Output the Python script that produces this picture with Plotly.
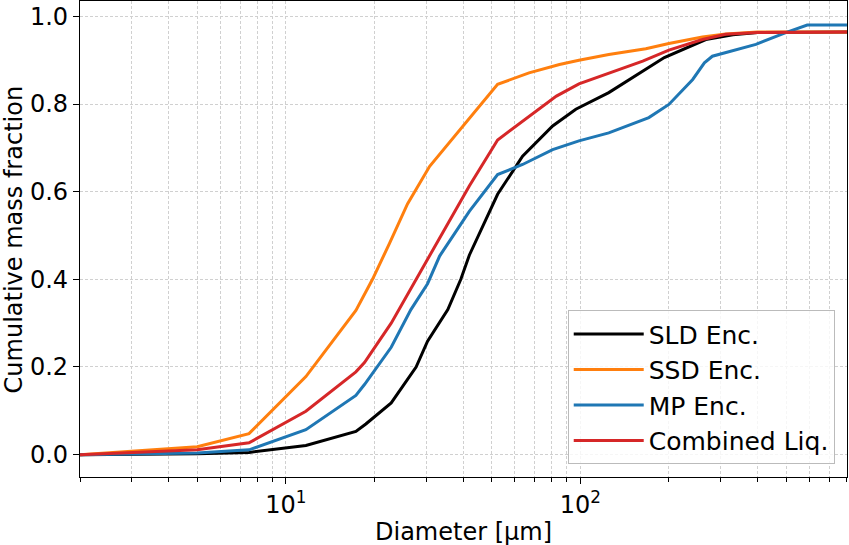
import plotly.graph_objects as go

# cumulative mass fraction vs. diameter (um)
sld_d = [2, 5, 7.5, 11.7, 17.3, 18.7, 22.8, 27.7, 30.3, 35.5, 39.3, 42, 52.4,
         63.7, 80.6, 96.6, 125, 151, 193, 267, 330, 400, 805]
sld_v = [0, 0.002, 0.005, 0.021, 0.053, 0.07, 0.118, 0.20, 0.259, 0.331, 0.40,
         0.455, 0.594, 0.681, 0.750, 0.788, 0.826, 0.860, 0.906, 0.947, 0.958,
         0.963, 0.964]

ssd_d = [2, 5, 7.5, 11.7, 17.3, 19.7, 22.5, 25.9, 30.8, 40.9, 52.4, 67, 85, 99,
         125, 167, 200, 260, 312, 400, 805]
ssd_v = [0, 0.018, 0.048, 0.178, 0.329, 0.40, 0.482, 0.572, 0.658, 0.757, 0.845,
         0.871, 0.890, 0.900, 0.913, 0.926, 0.938, 0.953, 0.960, 0.964, 0.964]

mp_d = [2, 5, 7.5, 11.7, 17.3, 18.5, 22.8, 26.6, 30.3, 33.3, 42, 52.4, 63.7,
        80.6, 99, 125, 171, 200, 241, 264, 281, 330, 395, 499, 590, 805]
mp_v = [0, 0.004, 0.011, 0.057, 0.135, 0.16, 0.245, 0.331, 0.39, 0.453, 0.555,
        0.639, 0.662, 0.696, 0.716, 0.734, 0.769, 0.799, 0.856, 0.894, 0.909,
        0.921, 0.936, 0.963, 0.980, 0.980]

liq_d = [2, 5, 7.5, 11.7, 17.3, 18.5, 22.8, 27.7, 34, 42, 52.4, 67, 83, 99, 125,
         163, 200, 260, 312, 400, 805]
liq_v = [0, 0.011, 0.027, 0.099, 0.189, 0.21, 0.30, 0.40, 0.502, 0.613, 0.718,
         0.772, 0.818, 0.846, 0.870, 0.898, 0.923, 0.947, 0.959, 0.963, 0.964]

x_major = [10, 100]
x_major_text = ["10<sup>1</sup>", "10<sup>2</sup>"]
x_minor = [2, 3, 4, 5, 6, 7, 8, 9, 20, 30, 40, 50, 60, 70, 80, 90,
           200, 300, 400, 500, 600, 700, 800]
y_ticks = [0, 0.2, 0.4, 0.6, 0.8, 1.0]

series = [
    ("SLD Enc.", sld_d, sld_v, "#000000"),
    ("SSD Enc.", ssd_d, ssd_v, "#ff7f0e"),
    ("MP Enc.", mp_d, mp_v, "#1f77b4"),
    ("Combined Liq.", liq_d, liq_v, "#d62728"),
]

fig = go.Figure()
for name, d, v, color in series:
    fig.add_trace(go.Scatter(x=d, y=v, mode="lines", name=name,
                             line=dict(color=color, width=3)))

grid = dict(showgrid=True, gridcolor="#d0d0d0", gridwidth=0.8,
            griddash="3px,2px")

fig.update_layout(
    width=849, height=545,
    margin=dict(l=80, r=2, t=1, b=68, autoexpand=False),
    plot_bgcolor="white", paper_bgcolor="white",
    font=dict(family="DejaVu Sans", size=24, color="black"),
    showlegend=True,
    legend=dict(x=0.984, y=0.027, xanchor="right", yanchor="bottom",
                bgcolor="rgba(255,255,255,0.8)", bordercolor="#bbbbbb",
                borderwidth=1, font=dict(size=25), tracegroupgap=0,
                itemwidth=70),
    xaxis=dict(
        type="log", range=[0.301, 2.906], automargin=False,
        tickvals=x_major, ticktext=x_major_text,
        tickfont=dict(size=24),
        ticks="outside", ticklen=6, tickcolor="black",
        showline=True, linecolor="black", linewidth=1.2, mirror=True,
        zeroline=False,
        minor=dict(tickvals=x_minor, ticks="outside", ticklen=4,
                   tickcolor="black", showgrid=True, gridcolor="#d0d0d0",
                   gridwidth=0.8, griddash="3px,2px"),
        **grid,
    ),
    yaxis=dict(
        range=[-0.051, 1.035], automargin=False,
        tickvals=y_ticks, tickformat=".1f",
        tickfont=dict(size=24),
        ticks="outside", ticklen=6, tickcolor="black",
        showline=True, linecolor="black", linewidth=1.2, mirror=True,
        zeroline=False,
        **grid,
    ),
)

fig.add_annotation(text="Diameter [μm]", xref="paper", yref="paper",
                   x=0.5, y=-0.1155, xanchor="center", yanchor="middle",
                   showarrow=False, font=dict(size=24))
fig.add_annotation(text="Cumulative mass fraction", xref="paper", yref="paper",
                   x=-0.0855, y=0.5, xanchor="center", yanchor="middle",
                   textangle=-90, showarrow=False, font=dict(size=24))

# drop the browser's default 8px body margin so the figure sits at 0,0
fig.write_html("out.html", config={"displayModeBar": False},
               post_script="document.body.style.margin='0';")
